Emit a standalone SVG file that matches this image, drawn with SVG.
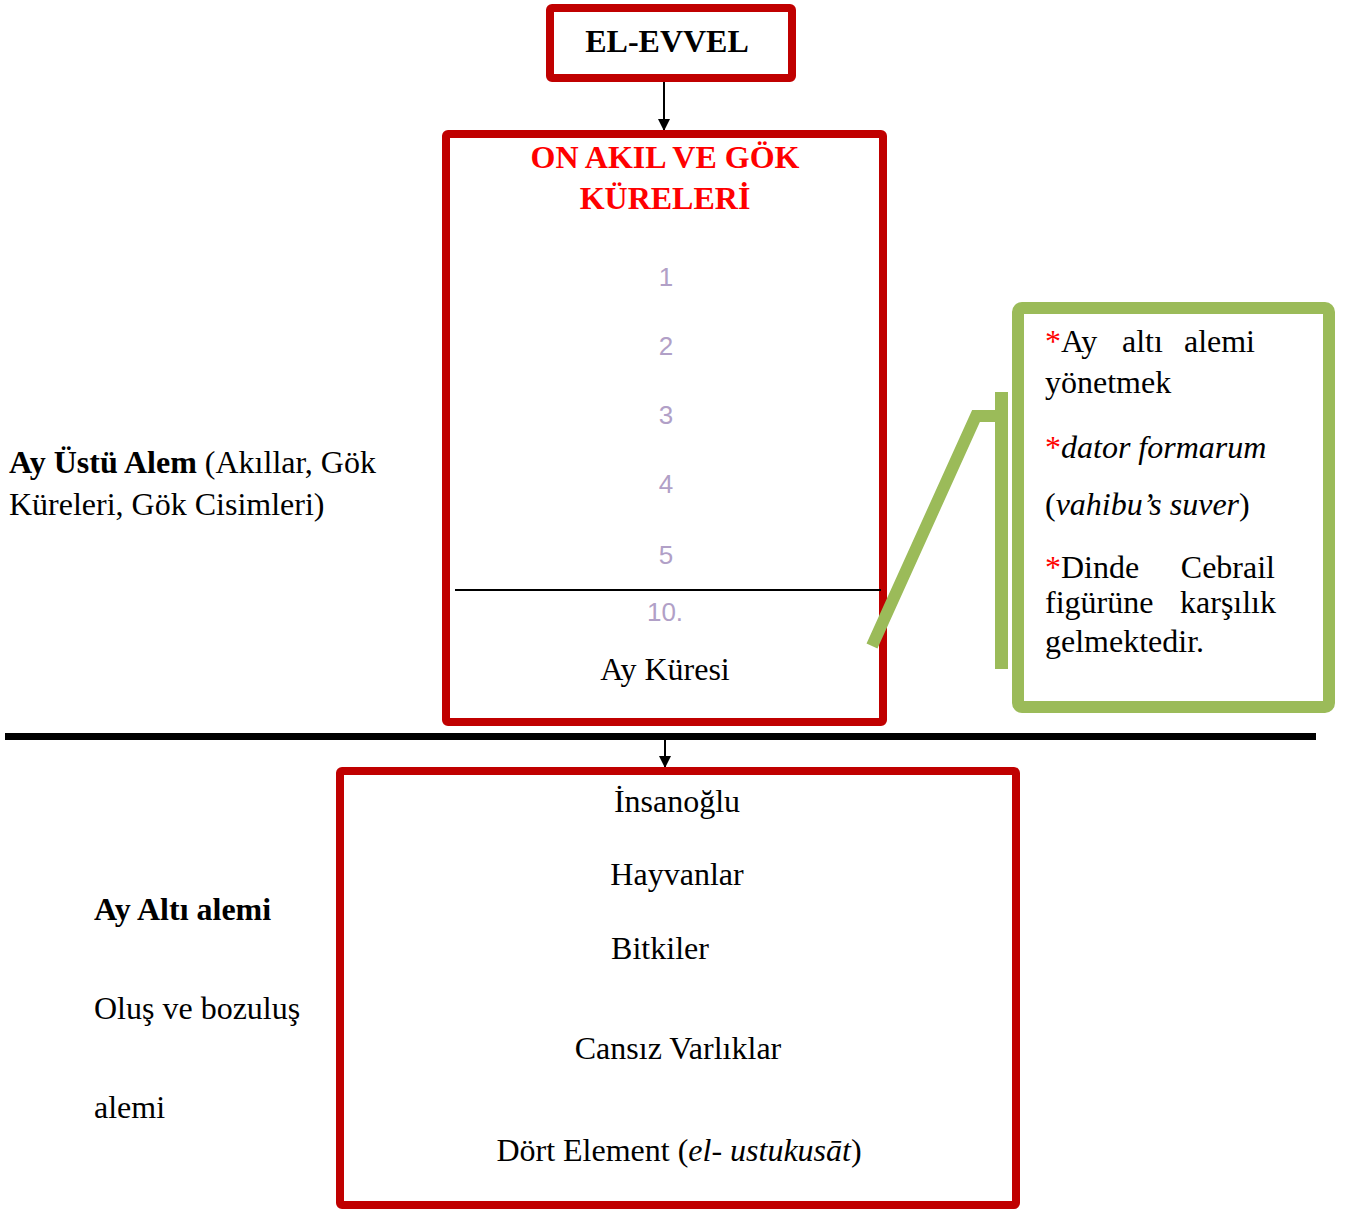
<svg xmlns="http://www.w3.org/2000/svg" width="1347" height="1209" viewBox="0 0 1347 1209">
<defs>
<style>
.t{font-family:"Liberation Serif","Times New Roman",serif;font-size:32px;fill:#000}
.b{font-weight:bold}
.i{font-style:italic}
.red{fill:#FF0000}
.num{font-family:"Liberation Sans",Arial,sans-serif;font-size:26px;fill:#B1A0C7}
.box{fill:#fff;stroke:#C00000;stroke-width:8}
.gbox{fill:#fff;stroke:#9BBB59;stroke-width:12}
.ast{fill:#FF0000}
</style>
<marker id="ah" markerWidth="14" markerHeight="14" viewBox="0 0 14 14" refX="13" refY="7" orient="auto" markerUnits="userSpaceOnUse">
<path d="M1,1 L13,7 L1,13 Z" fill="#000"/>
</marker>
</defs>
<rect width="1347" height="1209" fill="#fff"/>

<g id="connectors">
<line x1="664" y1="82" x2="664" y2="131" stroke="#000" stroke-width="2" marker-end="url(#ah)"/>
<line x1="5" y1="736.5" x2="1316" y2="736.5" stroke="#000" stroke-width="7"/>
<line x1="665" y1="740" x2="665" y2="768" stroke="#000" stroke-width="2" marker-end="url(#ah)"/>
</g>

<g id="el-evvel">
<rect class="box" x="550" y="8" width="242" height="70" rx="2"/>
<text class="t b" x="667" y="52" text-anchor="middle">EL-EVVEL</text>
</g>

<g id="on-akil">
<rect class="box" x="446" y="134" width="437" height="588" rx="2"/>
<text class="t b red" x="665" y="168" text-anchor="middle">ON AKIL VE GÖK</text>
<text class="t b red" x="665" y="209" text-anchor="middle">KÜRELERİ</text>
<text class="num" x="666" y="286" text-anchor="middle">1</text>
<text class="num" x="666" y="355" text-anchor="middle">2</text>
<text class="num" x="666" y="424" text-anchor="middle">3</text>
<text class="num" x="666" y="493" text-anchor="middle">4</text>
<text class="num" x="666" y="564" text-anchor="middle">5</text>
<line x1="455" y1="590" x2="881" y2="590" stroke="#000" stroke-width="2"/>
<text class="num" x="665" y="621" text-anchor="middle">10.</text>
<text class="t" x="665" y="680" text-anchor="middle">Ay Küresi</text>
</g>

<g id="ay-ustu">
<text class="t" x="9" y="473"><tspan class="b">Ay Üstü Alem</tspan> (Akıllar, Gök</text>
<text class="t" x="9" y="515">Küreleri, Gök Cisimleri)</text>
</g>

<g id="callout">
<polyline points="1002,416 976,416 872,646" fill="none" stroke="#9BBB59" stroke-width="12" stroke-linejoin="miter"/>
<rect x="995" y="392" width="13" height="277" fill="#9BBB59"/>
<rect class="gbox" x="1018" y="308" width="311" height="399" rx="4"/>
<text class="t" x="1045" y="352"><tspan class="ast">*</tspan>Ay</text>
<text class="t" x="1122" y="352">altı</text>
<text class="t" x="1255" y="352" text-anchor="end">alemi</text>
<text class="t" x="1045" y="393">yönetmek</text>
<text class="t" x="1045" y="458"><tspan class="ast">*</tspan><tspan class="i">dator formarum</tspan></text>
<text class="t" x="1045" y="515">(<tspan class="i">vahibu’s suver</tspan>)</text>
<text class="t" x="1045" y="578"><tspan class="ast">*</tspan>Dinde</text>
<text class="t" x="1275" y="578" text-anchor="end">Cebrail</text>
<text class="t" x="1045" y="613">figürüne</text>
<text class="t" x="1276" y="613" text-anchor="end">karşılık</text>
<text class="t" x="1045" y="652">gelmektedir.</text>
</g>

<g id="ay-alti">
<text class="t b" x="94" y="920">Ay Altı alemi</text>
<text class="t" x="94" y="1019">Oluş ve bozuluş</text>
<text class="t" x="94" y="1118">alemi</text>
</g>

<g id="varliklar">
<rect class="box" x="340" y="771" width="676" height="434" rx="2"/>
<text class="t" x="677" y="812" text-anchor="middle">İnsanoğlu</text>
<text class="t" x="677" y="885" text-anchor="middle">Hayvanlar</text>
<text class="t" x="660" y="959" text-anchor="middle">Bitkiler</text>
<text class="t" x="678" y="1059" text-anchor="middle">Cansız Varlıklar</text>
<text class="t" x="679" y="1161" text-anchor="middle">Dört Element (<tspan class="i">el- ustukusāt</tspan>)</text>
</g>
</svg>
